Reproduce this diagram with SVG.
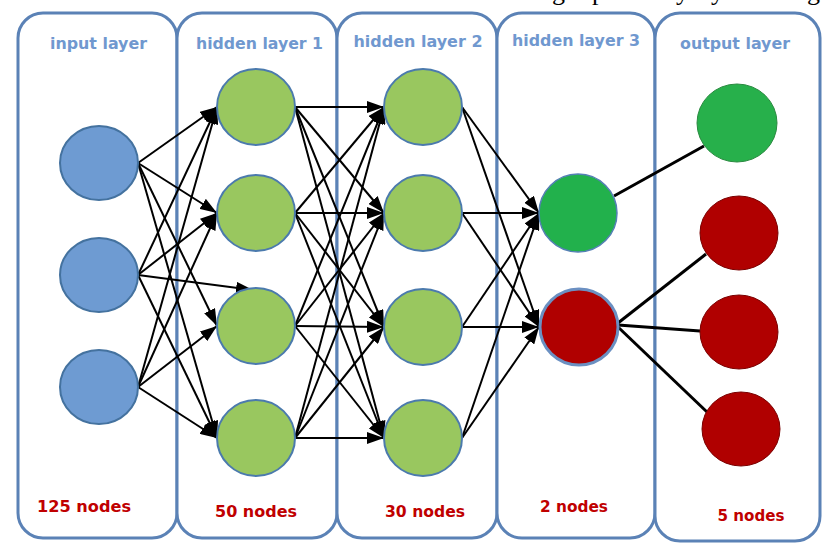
<svg xmlns="http://www.w3.org/2000/svg" width="822" height="546" viewBox="0 0 822 546">
<defs>
<style>
.panel{fill:#fff;stroke:#5b82b6;stroke-width:3}
.hdr{font-family:"DejaVu Sans","Liberation Sans",sans-serif;font-weight:bold;font-size:16px;fill:#7098cf;text-anchor:middle}
.cnt{font-family:"DejaVu Sans","Liberation Sans",sans-serif;font-weight:bold;font-size:16px;fill:#c00000;text-anchor:middle}
.inp{fill:#6e9bd2;stroke:#44729f;stroke-width:2}
.hid{fill:#99c75f;stroke:#4b7aad;stroke-width:2}
.gre{fill:#22b14c;stroke:#5580b5;stroke-width:1.5}
.red{fill:#b00000;stroke:#6b90c2;stroke-width:3}
.ogre{fill:#27b04b;stroke:#2a8a40;stroke-width:1}
.ored{fill:#b00000;stroke:#7a0000;stroke-width:1}
.arr{stroke:#000;stroke-width:2;fill:none;marker-end:url(#ah)}
.ln{stroke:#000;stroke-width:3;fill:none}
</style>
<marker id="ah" markerUnits="userSpaceOnUse" markerWidth="17" markerHeight="12" refX="17" refY="6" orient="auto"><path d="M0,0 L17,6 L0,12 Z" fill="#000"/></marker>
</defs>
<rect width="822" height="546" fill="#fff"/>
<text font-family="'Liberation Serif',serif" font-size="26" fill="#000" y="0"><tspan x="552">g</tspan><tspan x="592">p</tspan><tspan x="676">y</tspan><tspan x="711">y</tspan><tspan x="807">g</tspan></text>
<g id="panels">
<rect id="panel-input" class="panel" x="18" y="13" width="159" height="525" rx="25"/>
<rect id="panel-h1" class="panel" x="177" y="13" width="160" height="525" rx="25"/>
<rect id="panel-h2" class="panel" x="337" y="13" width="160" height="525" rx="25"/>
<rect id="panel-h3" class="panel" x="497" y="13" width="158" height="525" rx="25"/>
<rect id="panel-out" class="panel" x="655" y="13" width="165" height="528" rx="25"/>
</g>
<g id="labels">
<text class="hdr" x="98.5" y="49" textLength="97" lengthAdjust="spacingAndGlyphs">input layer</text>
<text class="hdr" x="259.5" y="49" textLength="127" lengthAdjust="spacingAndGlyphs">hidden layer 1</text>
<text class="hdr" x="418" y="47" textLength="129" lengthAdjust="spacingAndGlyphs">hidden layer 2</text>
<text class="hdr" x="576" y="46" textLength="128" lengthAdjust="spacingAndGlyphs">hidden layer 3</text>
<text class="hdr" x="735" y="49" textLength="110" lengthAdjust="spacingAndGlyphs">output layer</text>
<text class="cnt" x="84" y="512" textLength="94" lengthAdjust="spacingAndGlyphs">125 nodes</text>
<text class="cnt" x="256" y="517" textLength="82" lengthAdjust="spacingAndGlyphs">50 nodes</text>
<text class="cnt" x="425" y="517" textLength="80" lengthAdjust="spacingAndGlyphs">30 nodes</text>
<text class="cnt" x="574" y="512" textLength="68" lengthAdjust="spacingAndGlyphs">2 nodes</text>
<text class="cnt" x="751" y="521" textLength="67" lengthAdjust="spacingAndGlyphs">5 nodes</text>
</g>
<g id="connectors">
<path class="arr" d="M138,163 L217,107"/>
<path class="arr" d="M138,163 L217,213"/>
<path class="arr" d="M138,163 L217,326"/>
<path class="arr" d="M138,163 L217,438"/>
<path class="arr" d="M138,275 L217,107"/>
<path class="arr" d="M138,275 L217,213"/>
<path class="arr" d="M138,275 L253,290"/>
<path class="arr" d="M138,275 L217,438"/>
<path class="arr" d="M138,387 L217,107"/>
<path class="arr" d="M138,387 L217,213"/>
<path class="arr" d="M138,387 L217,326"/>
<path class="arr" d="M138,387 L217,438"/>
<path class="arr" d="M295,107 L384,107"/>
<path class="arr" d="M295,107 L384,213"/>
<path class="arr" d="M295,107 L384,327"/>
<path class="arr" d="M295,107 L384,438"/>
<path class="arr" d="M295,213 L384,107"/>
<path class="arr" d="M295,213 L384,213"/>
<path class="arr" d="M295,213 L384,327"/>
<path class="arr" d="M295,213 L384,438"/>
<path class="arr" d="M295,326 L384,107"/>
<path class="arr" d="M295,326 L384,213"/>
<path class="arr" d="M295,326 L384,327"/>
<path class="arr" d="M295,326 L384,438"/>
<path class="arr" d="M295,438 L384,107"/>
<path class="arr" d="M295,438 L384,213"/>
<path class="arr" d="M295,438 L384,327"/>
<path class="arr" d="M295,438 L384,438"/>
<path class="arr" d="M462,107 L539,213"/>
<path class="arr" d="M462,107 L539,327"/>
<path class="arr" d="M462,213 L539,213"/>
<path class="arr" d="M462,213 L539,327"/>
<path class="arr" d="M462,327 L539,213"/>
<path class="arr" d="M462,327 L539,327"/>
<path class="arr" d="M462,438 L539,213"/>
<path class="arr" d="M462,438 L539,327"/>
<path class="ln" d="M614,196 L704,146"/>
<path class="ln" d="M618,323 L706,254"/>
<path class="ln" d="M618,325 L700,331"/>
<path class="ln" d="M618,327 L707,412"/>
</g>
<g id="input-1"><ellipse class="inp" cx="99" cy="163" rx="39" ry="37"/></g>
<g id="input-2"><ellipse class="inp" cx="99" cy="275" rx="39" ry="37"/></g>
<g id="input-3"><ellipse class="inp" cx="99" cy="387" rx="39" ry="37"/></g>
<g id="h1-1"><ellipse class="hid" cx="256" cy="107" rx="39" ry="38"/></g>
<g id="h1-2"><ellipse class="hid" cx="256" cy="213" rx="39" ry="38"/></g>
<g id="h1-3"><ellipse class="hid" cx="256" cy="326" rx="39" ry="38"/></g>
<g id="h1-4"><ellipse class="hid" cx="256" cy="438" rx="39" ry="38"/></g>
<g id="h2-1"><ellipse class="hid" cx="423" cy="107" rx="39" ry="38"/></g>
<g id="h2-2"><ellipse class="hid" cx="423" cy="213" rx="39" ry="38"/></g>
<g id="h2-3"><ellipse class="hid" cx="423" cy="327" rx="39" ry="38"/></g>
<g id="h2-4"><ellipse class="hid" cx="423" cy="438" rx="39" ry="38"/></g>
<g id="h3-1"><ellipse class="gre" cx="578" cy="213" rx="39" ry="39"/></g>
<g id="h3-2"><ellipse class="red" cx="579" cy="327" rx="39" ry="38"/></g>
<g id="out-1"><ellipse class="ogre" cx="737" cy="123" rx="40" ry="39"/></g>
<g id="out-2"><ellipse class="ored" cx="739" cy="233" rx="39" ry="37"/></g>
<g id="out-3"><ellipse class="ored" cx="739" cy="332" rx="39" ry="37"/></g>
<g id="out-4"><ellipse class="ored" cx="741" cy="429" rx="39" ry="37"/></g>
</svg>
